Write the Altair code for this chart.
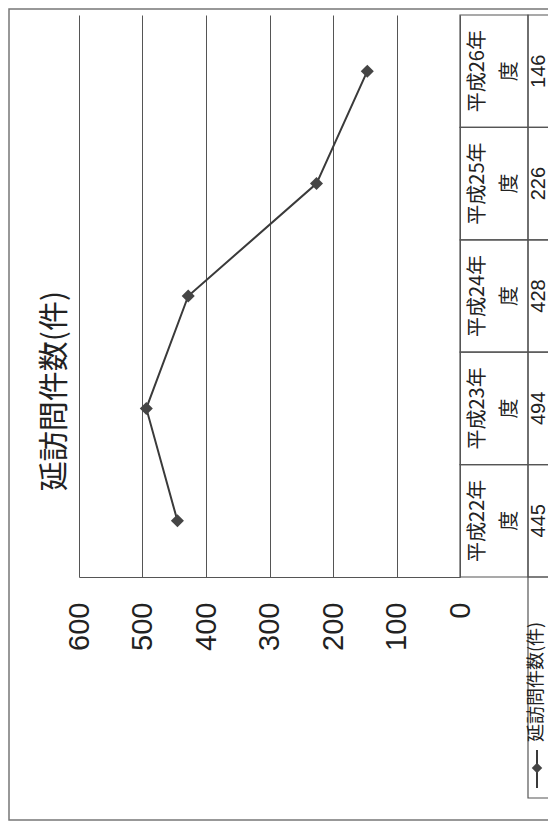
import altair as alt
import pandas as pd

# ---- data ----
categories = ["平成22年度", "平成23年度", "平成24年度", "平成25年度", "平成26年度"]
visits = [445, 494, 428, 226, 146]
tick_values = [0, 100, 200, 300, 400, 500, 600]
series_name = "延訪問件数(件)"
title_text = "延訪問件数(件)"

CJK = "Noto Sans CJK JP"
NUM = "Liberation Sans Narrow, Liberation Sans, Arial"
INK = "#222222"
LINE = "#555555"

df = pd.DataFrame({
    "cat": categories,
    "value": visits,
    "head": [c[:-1] + "\n" + c[-1] for c in categories],
})
legend_df = pd.DataFrame({"name": [series_name]})
title_df = pd.DataFrame({"t": [title_text]})

W, H = 381, 562

y_enc = alt.Y(
    "cat:N",
    sort=categories[::-1],
    scale=alt.Scale(type="band", paddingInner=0, paddingOuter=0),
    axis=None,
)
x_enc = alt.X(
    "value:Q",
    scale=alt.Scale(domain=[0, 600], reverse=True, nice=False),
    axis=alt.Axis(
        values=tick_values,
        orient="bottom",
        labelAngle=270,
        labelAlign="right",
        labelBaseline="middle",
        labelPadding=25,
        labelFont=NUM,
        labelFontSize=29,
        labelColor=INK,
        ticks=False,
        domain=True,
        domainColor=LINE,
        domainWidth=1.2,
        grid=True,
        gridColor=LINE,
        gridWidth=1,
        title=None,
    ),
)

base = alt.Chart(df)

line = base.mark_line(color="#3a3a3a", strokeWidth=2).encode(x=x_enc, y=y_enc)
points = base.mark_point(shape="diamond", filled=True, size=170, color="#454545", opacity=1).encode(
    x=x_enc, y=y_enc
)

head_cells = base.mark_rect(fillOpacity=0, stroke=LINE, strokeWidth=1.2).encode(
    x=alt.value(W), x2=alt.value(W + 68), y=y_enc
)
val_cells = base.mark_rect(fillOpacity=0, stroke=LINE, strokeWidth=1.2).encode(
    x=alt.value(W + 68), x2=alt.value(W + 140), y=y_enc
)
head_text = base.mark_text(
    angle=270, align="center", baseline="middle", lineBreak="\n", lineHeight=32,
    font=CJK, fontSize=20, color=INK,
).encode(x=alt.value(W + 18), y=y_enc, text="head:N")
val_text = base.mark_text(
    angle=270, align="center", baseline="middle", font=NUM, fontSize=20, color=INK,
).encode(x=alt.value(W + 79), y=y_enc, text="value:Q")

leg = alt.Chart(legend_df)
leg_cell = leg.mark_rect(fillOpacity=0, stroke=LINE, strokeWidth=1.2).encode(
    x=alt.value(W + 68), x2=alt.value(W + 140), y=alt.value(H), y2=alt.value(H + 221)
)
leg_rule = leg.mark_rule(color="#3a3a3a", strokeWidth=2).encode(
    x=alt.value(W + 77), y=alt.value(H + 173), y2=alt.value(H + 211)
)
leg_pt = leg.mark_point(shape="diamond", filled=True, size=110, color="#454545", opacity=1).encode(
    x=alt.value(W + 77), y=alt.value(H + 191)
)
leg_text = leg.mark_text(
    angle=270, align="left", baseline="middle", font=CJK, fontSize=18, color=INK
).encode(x=alt.value(W + 77), y=alt.value(H + 165), text="name:N")

title = alt.Chart(title_df).mark_text(
    angle=270, align="center", baseline="middle", font=CJK, fontSize=30, color=INK
).encode(x=alt.value(-24), y=alt.value(376), text="t:N")

frame = alt.Chart(title_df).mark_rect(fillOpacity=0, stroke="#777777", strokeWidth=1.5).encode(
    x=alt.value(-70), x2=alt.value(W + 160), y=alt.value(-6), y2=alt.value(H + 243)
)

chart = (
    alt.layer(frame, line, points, head_cells, val_cells, head_text, val_text,
              leg_cell, leg_rule, leg_pt, leg_text, title)
    .properties(
        width=W,
        height=H,
        autosize=alt.AutoSizeParams(type="none"),
        padding={"left": 71, "top": 7, "right": 88, "bottom": 244},
        background="white",
    )
    .configure_view(stroke=None)
)

chart.save("out.html", embed_options={"renderer": "svg", "actions": False})
